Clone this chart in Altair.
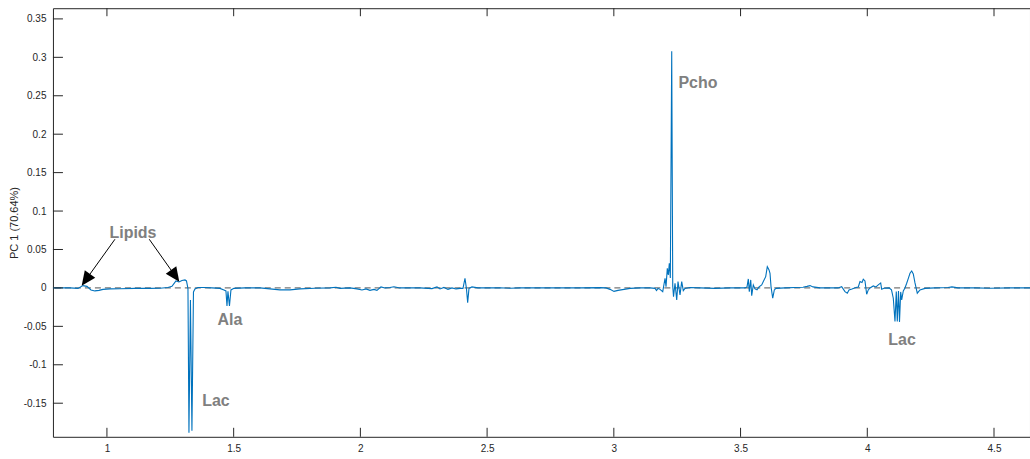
import altair as alt
import pandas as pd

# ---- spectrum (PC1 loading) ----
ppm = [0.787, 0.854, 0.8857, 0.9054, 0.9212, 0.937, 0.9527, 0.9685, 0.9843, 1.012,
       1.0514, 1.1105, 1.1697, 1.2092, 1.2408, 1.2566, 1.2723, 1.2842, 1.296, 1.3079,
       1.3138, 1.3177, 1.3197, 1.3236, 1.3295, 1.3354, 1.3414, 1.3473, 1.3591, 1.3867,
       1.4144, 1.4459, 1.4617, 1.4696, 1.4736, 1.4775, 1.4834, 1.4893, 1.5012, 1.5446,
       1.6038, 1.6432, 1.6827, 1.7222, 1.7616, 1.8208, 1.88, 1.9037, 1.9194, 1.9589,
       1.9865, 2.0063, 2.0221, 2.0378, 2.0536, 2.0654, 2.0812, 2.097, 2.1167, 2.1325,
       2.1562, 2.1956, 2.2351, 2.2825, 2.3022, 2.314, 2.3298, 2.3456, 2.3614, 2.3772,
       2.393, 2.4048, 2.4127, 2.4186, 2.4233, 2.4285, 2.4403, 2.464, 2.5113, 2.5508,
       2.5903, 2.6297, 2.7086, 2.7875, 2.8665, 2.9454, 2.9691, 2.9849, 3.0007, 3.0164,
       3.0401, 3.0638, 3.1033, 3.1428, 3.1625, 3.1684, 3.1743, 3.1822, 3.1929, 3.202,
       3.2059, 3.211, 3.215, 3.2189, 3.2229, 3.2284, 3.2324, 3.2355, 3.2414, 3.2481,
       3.2532, 3.2611, 3.2678, 3.2741, 3.2808, 3.3005, 3.34, 3.3992, 3.4584, 3.5176,
       3.5255, 3.5306, 3.5345, 3.5401, 3.544, 3.5503, 3.557, 3.5649, 3.5728, 3.5834,
       3.5898, 3.5992, 3.6055, 3.6095, 3.6123, 3.6162, 3.6202, 3.6269, 3.6332, 3.6399,
       3.6754, 3.7149, 3.7465, 3.7623, 3.7741, 3.7859, 3.8136, 3.8528, 3.8844, 3.899,
       3.912, 3.9211, 3.9278, 3.9396, 3.9554, 3.9645, 3.9712, 3.9791, 3.9842, 3.9909,
       3.9976, 4.0039, 4.0106, 4.0237, 4.0343, 4.0434, 4.0529, 4.0568, 4.0659, 4.0856,
       4.0955, 4.1026, 4.1093, 4.1144, 4.1184, 4.1231, 4.1271, 4.1318, 4.1357, 4.1421,
       4.1487, 4.1555, 4.1626, 4.1685, 4.1752, 4.1815, 4.1882, 4.1973, 4.2079, 4.2277,
       4.2671, 4.3184, 4.3342, 4.3579, 4.4249, 4.4841, 4.5631, 4.642]
pc1 = [0, 0, -0.0006, 0.003, 0.002, -0.0026, -0.0039, -0.0032, -0.0019, -0.0013,
       -0.001, -0.0006, -0.0006, -0.0004, 0.0006, 0.002, 0.0091, 0.0078, 0.0097, 0.0104,
       0.0091, 0.0026, -0.0013, -0.1885, -0.0156, -0.1859, -0.0052, -0.0013, 0.0006, 0.0006,
       0, -0.0006, -0.0026, -0.0039, -0.0234, -0.0045, -0.0234, -0.0026, -0.0006, 0,
       0, -0.0013, -0.0026, -0.0026, -0.0013, -0.0004, 0, 0.0009, -0.0006, 0,
       -0.0013, -0.0026, -0.0013, -0.0032, -0.0019, -0.0032, 0.0013, 0, 0.0006, 0.0016,
       0, 0, 0, -0.0009, 0.0013, -0.0013, 0.0006, -0.0019, 0, -0.0013,
       -0.0006, -0.0006, 0.0126, -0.0013, -0.0191, -0.0006, 0.0013, 0, 0, 0.0003,
       -0.0004, 0, 0, 0, 0, 0.0004, 0, -0.0019, -0.0045, -0.0032,
       -0.0019, -0.0006, 0, 0, -0.0006, -0.0035, -0.0006, -0.0019, -0.0048, 0.0126,
       0.0017, 0.0256, 0.0169, 0.0321, 0.013, 0.308, 0.0026, -0.0113, 0.0061, -0.0156,
       0.0082, -0.0091, 0.0082, -0.0035, -0.0006, 0.0006, 0, -0.0006, 0, 0,
       0.0013, 0.0117, -0.0048, 0.0104, -0.01, 0.0039, -0.0013, -0.0026, 0.0013, 0.0039,
       0.0082, 0.0147, 0.0277, 0.0253, 0.0234, 0.0191, 0.0017, -0.0134, -0.0026, -0.0006,
       0, 0.0006, 0.0009, 0.002, 0.003, 0.0013, 0, 0, 0, 0.0017,
       -0.0048, -0.0069, -0.0026, -0.0013, 0.0006, 0.0013, 0.0082, 0.0071, 0.0113, 0.0091,
       -0.0082, -0.0026, 0, 0.0026, 0.0013, 0.0039, 0.0065, -0.0017, -0.0004, 0,
       -0.0026, -0.0134, -0.0438, -0.0048, -0.0438, -0.0039, -0.0442, -0.0052, -0.0156, -0.0039,
       0, 0.0061, 0.013, 0.0191, 0.0221, 0.0182, 0.0065, -0.0069, -0.0026, -0.0006,
       0, 0.0006, 0.0013, 0, 0, -0.0004, 0, 0]

# ---- axes ----
x_ticks = [1, 1.5, 2, 2.5, 3, 3.5, 4, 4.5]
y_ticks = [-0.15, -0.1, -0.05, 0, 0.05, 0.1, 0.15, 0.2, 0.25, 0.3, 0.35]
X_DOM = [0.787, 4.642]
Y_DOM = [-0.1937, 0.3639]

# ---- annotations ----
label_text = ["Lipids", "Ala", "Lac", "Pcho", "Lac"]
label_x = [1.1027, 1.4854, 1.4302, 3.332, 4.137]
label_y = [0.0715, -0.0416, -0.1469, 0.2664, -0.0676]

arrow_x0 = [1.0316, 1.167]
arrow_y0 = [0.0633, 0.0633]
arrow_x1 = [0.9168, 1.2692]
arrow_y1 = [0.0105, 0.0157]
head_angle = [215.7, 144.7]

W, H = 978, 429
AX = "#262626"
FONT = "Liberation Sans"

xs = alt.Scale(domain=X_DOM, nice=False, zero=False)
ys = alt.Scale(domain=Y_DOM, nice=False, zero=False)
xaxis = alt.Axis(values=x_ticks, format="~g", ticks=False, domain=False, grid=False,
                 labelPadding=7, labelFontSize=10, labelColor=AX, labelFont=FONT,
                 labelFlush=False, title=None)
yaxis = alt.Axis(values=y_ticks, format="~g", ticks=False, domain=False, grid=False,
                 labelPadding=7, labelFontSize=10, labelColor=AX, labelFont=FONT,
                 labelFlush=False,
                 labelExpr="replace(datum.label, '\u2212', '-')",
                 title="PC 1 (70.64%)", titleFont=FONT, titleFontSize=11,
                 titleFontWeight="normal", titleColor=AX, titlePadding=4)


def X(f="x"):
    return alt.X(f"{f}:Q", scale=xs, axis=xaxis)


def Y(f="y"):
    return alt.Y(f"{f}:Q", scale=ys, axis=yaxis)


spec_df = pd.DataFrame({"x": ppm, "y": pc1})
xt_df = pd.DataFrame({"x": x_ticks})
yt_df = pd.DataFrame({"y": y_ticks})
lab_df = pd.DataFrame({"x": label_x, "y": label_y, "t": label_text})
arr_df = pd.DataFrame({"x": arrow_x0, "y": arrow_y0, "x2": arrow_x1, "y2": arrow_y1})
head_df = pd.DataFrame({"x": arrow_x1, "y": arrow_y1, "a": head_angle})
zero_df = pd.DataFrame({"y": [0]})

zero = alt.Chart(zero_df).mark_rule(color="#404040", strokeDash=[6, 4], strokeWidth=0.9).encode(y=Y())

line = alt.Chart(spec_df).mark_line(color="#0072BD", strokeWidth=1.1, clip=True).encode(x=X(), y=Y())

bt = alt.Chart(xt_df).mark_rule(color=AX).encode(x=X(), y=alt.value(H), y2=alt.value(H - 9))
tt = alt.Chart(xt_df).mark_rule(color=AX).encode(x=X(), y=alt.value(0), y2=alt.value(8))
lt = alt.Chart(yt_df).mark_rule(color=AX).encode(y=Y(), x=alt.value(0), x2=alt.value(10))

labels = alt.Chart(lab_df).mark_text(font=FONT, fontSize=16, fontWeight="bold", color="#808080",
                                      align="center", baseline="middle").encode(x=X(), y=Y(), text="t:N")

arrows = alt.Chart(arr_df).mark_rule(color="black", strokeWidth=1).encode(
    x=X(), y=Y(), x2="x2:Q", y2="y2:Q")

heads = alt.Chart(head_df).mark_point(shape="M0,-1L0.9,1L-0.9,1Z", size=204, filled=True,
                                      color="black", opacity=1, strokeWidth=0).encode(
    x=X(), y=Y(), angle=alt.Angle("a:Q", scale=None))

chart = alt.layer(zero, line, bt, tt, lt, arrows, heads, labels).properties(
    width=W, height=H,
    autosize=alt.AutoSizeParams(type="none"),
    padding={"left": 53, "top": 8, "right": 0, "bottom": 22},
    background="white",
).configure_view(stroke=AX, strokeWidth=1)

chart.save("out.html", embed_options={"renderer": "svg", "actions": False})
